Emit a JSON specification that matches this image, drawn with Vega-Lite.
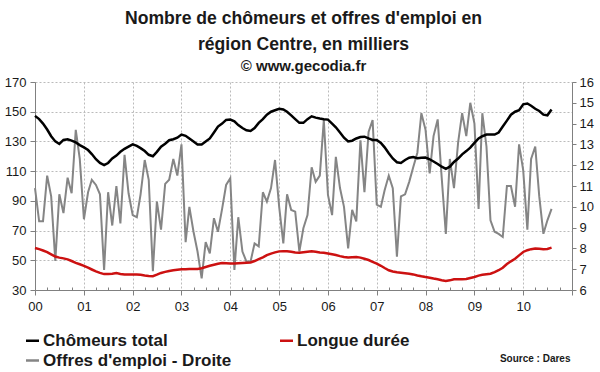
{
  "$schema": "https://vega.github.io/schema/vega-lite/v6.json",
  "width": 537,
  "height": 208,
  "autosize": {"type": "none"},
  "padding": {"left": 35, "top": 82, "right": 28, "bottom": 82},
  "background": "white",
  "config": {"font": "Liberation Sans", "view": {"stroke": null}},
  "title": {
    "text": ["Nombre de chômeurs et offres d'emploi en", "région Centre, en milliers"],
    "subtitle": "© www.gecodia.fr",
    "anchor": "middle",
    "font": "Liberation Sans",
    "fontSize": 17.6,
    "fontWeight": "bold",
    "color": "#1a1a1a",
    "lineHeight": 26,
    "subtitleFont": "Liberation Sans",
    "subtitleFontSize": 15,
    "subtitleFontWeight": "bold",
    "subtitleColor": "#1a1a1a",
    "subtitlePadding": 5,
    "offset": 2
  },
  "data": {"values": [
    {"date":"2000-01","chomeurs":147.2,"longue":58.3,"offres":10.9},
    {"date":"2000-02","chomeurs":145,"longue":57.5,"offres":9.3},
    {"date":"2000-03","chomeurs":142,"longue":56.6,"offres":9.3},
    {"date":"2000-04","chomeurs":138,"longue":55.5,"offres":11.5},
    {"date":"2000-05","chomeurs":133.5,"longue":54,"offres":10.5},
    {"date":"2000-06","chomeurs":130,"longue":52.5,"offres":7.4},
    {"date":"2000-07","chomeurs":128.3,"longue":51.8,"offres":10.6},
    {"date":"2000-08","chomeurs":131,"longue":51.3,"offres":9.7},
    {"date":"2000-09","chomeurs":131.4,"longue":50.6,"offres":11.4},
    {"date":"2000-10","chomeurs":130.5,"longue":49.5,"offres":10.65},
    {"date":"2000-11","chomeurs":129.3,"longue":48.3,"offres":13.7},
    {"date":"2000-12","chomeurs":127.5,"longue":47.3,"offres":12.3},
    {"date":"2001-01","chomeurs":126,"longue":46.3,"offres":9.4},
    {"date":"2001-02","chomeurs":124.2,"longue":45,"offres":10.7},
    {"date":"2001-03","chomeurs":121.5,"longue":43.8,"offres":11.3},
    {"date":"2001-04","chomeurs":118,"longue":42.5,"offres":11.05},
    {"date":"2001-05","chomeurs":115.5,"longue":41.5,"offres":10.6},
    {"date":"2001-06","chomeurs":114,"longue":40.7,"offres":6.96},
    {"date":"2001-07","chomeurs":115.5,"longue":40.7,"offres":10.7},
    {"date":"2001-08","chomeurs":118.5,"longue":41,"offres":9.1},
    {"date":"2001-09","chomeurs":120.5,"longue":41.4,"offres":11.0},
    {"date":"2001-10","chomeurs":123,"longue":40.8,"offres":9.2},
    {"date":"2001-11","chomeurs":125,"longue":40.4,"offres":12.5},
    {"date":"2001-12","chomeurs":126.5,"longue":40.4,"offres":10.65},
    {"date":"2002-01","chomeurs":128,"longue":40.4,"offres":9.6},
    {"date":"2002-02","chomeurs":127,"longue":40.4,"offres":9.5},
    {"date":"2002-03","chomeurs":125.5,"longue":40.2,"offres":10.6},
    {"date":"2002-04","chomeurs":123.5,"longue":39.8,"offres":12.25},
    {"date":"2002-05","chomeurs":121,"longue":39.5,"offres":11.3},
    {"date":"2002-06","chomeurs":120,"longue":39.3,"offres":6.9},
    {"date":"2002-07","chomeurs":123,"longue":40.3,"offres":10.25},
    {"date":"2002-08","chomeurs":126.5,"longue":41.5,"offres":8.9},
    {"date":"2002-09","chomeurs":128.5,"longue":42.2,"offres":11.1},
    {"date":"2002-10","chomeurs":130.8,"longue":42.8,"offres":11.3},
    {"date":"2002-11","chomeurs":131.5,"longue":43.3,"offres":12.3},
    {"date":"2002-12","chomeurs":132.5,"longue":43.7,"offres":11.5},
    {"date":"2003-01","chomeurs":134.6,"longue":44,"offres":13.0},
    {"date":"2003-02","chomeurs":133.8,"longue":44,"offres":8.3},
    {"date":"2003-03","chomeurs":132,"longue":44.1,"offres":10.0},
    {"date":"2003-04","chomeurs":130,"longue":44.2,"offres":8.8},
    {"date":"2003-05","chomeurs":128,"longue":44.2,"offres":7.85},
    {"date":"2003-06","chomeurs":128,"longue":44.7,"offres":6.56},
    {"date":"2003-07","chomeurs":130,"longue":45.5,"offres":8.3},
    {"date":"2003-08","chomeurs":132,"longue":46.3,"offres":7.76},
    {"date":"2003-09","chomeurs":136,"longue":47,"offres":9.45},
    {"date":"2003-10","chomeurs":140,"longue":47.7,"offres":8.8},
    {"date":"2003-11","chomeurs":142,"longue":48.2,"offres":9.9},
    {"date":"2003-12","chomeurs":144.5,"longue":48,"offres":11.05},
    {"date":"2004-01","chomeurs":144.7,"longue":47.8,"offres":11.37},
    {"date":"2004-02","chomeurs":143.5,"longue":47.8,"offres":6.96},
    {"date":"2004-03","chomeurs":141,"longue":48,"offres":9.5},
    {"date":"2004-04","chomeurs":139,"longue":48.2,"offres":7.85},
    {"date":"2004-05","chomeurs":137.5,"longue":48.4,"offres":7.37},
    {"date":"2004-06","chomeurs":137,"longue":48.5,"offres":7.37},
    {"date":"2004-07","chomeurs":139,"longue":49.5,"offres":8.24},
    {"date":"2004-08","chomeurs":142.5,"longue":50.8,"offres":8.1},
    {"date":"2004-09","chomeurs":145,"longue":52,"offres":10.7},
    {"date":"2004-10","chomeurs":148,"longue":53.5,"offres":10.25},
    {"date":"2004-11","chomeurs":150,"longue":54.5,"offres":10.9},
    {"date":"2004-12","chomeurs":151,"longue":55.3,"offres":12.25},
    {"date":"2005-01","chomeurs":152,"longue":56,"offres":10.0},
    {"date":"2005-02","chomeurs":151.5,"longue":56.1,"offres":8.24},
    {"date":"2005-03","chomeurs":150,"longue":56.1,"offres":10.6},
    {"date":"2005-04","chomeurs":147.5,"longue":55.8,"offres":9.85},
    {"date":"2005-05","chomeurs":145,"longue":55.3,"offres":9.77},
    {"date":"2005-06","chomeurs":142.5,"longue":55,"offres":7.85},
    {"date":"2005-07","chomeurs":142.5,"longue":55.4,"offres":8.97},
    {"date":"2005-08","chomeurs":145,"longue":55.8,"offres":9.6},
    {"date":"2005-09","chomeurs":146.9,"longue":56.1,"offres":11.9},
    {"date":"2005-10","chomeurs":146,"longue":55.8,"offres":11.2},
    {"date":"2005-11","chomeurs":145.4,"longue":55.3,"offres":11.5},
    {"date":"2005-12","chomeurs":145,"longue":55,"offres":14.17},
    {"date":"2006-01","chomeurs":144.7,"longue":54.5,"offres":10.57},
    {"date":"2006-02","chomeurs":142,"longue":54,"offres":9.6},
    {"date":"2006-03","chomeurs":139.5,"longue":53.5,"offres":12.4},
    {"date":"2006-04","chomeurs":136,"longue":52.8,"offres":10.9},
    {"date":"2006-05","chomeurs":132.5,"longue":52.2,"offres":10.0},
    {"date":"2006-06","chomeurs":130,"longue":51.8,"offres":8.0},
    {"date":"2006-07","chomeurs":130.5,"longue":52,"offres":9.85},
    {"date":"2006-08","chomeurs":132,"longue":52.2,"offres":9.3},
    {"date":"2006-09","chomeurs":133,"longue":51.8,"offres":13.2},
    {"date":"2006-10","chomeurs":133.2,"longue":51,"offres":10.7},
    {"date":"2006-11","chomeurs":132,"longue":50.2,"offres":13.6},
    {"date":"2006-12","chomeurs":131,"longue":49,"offres":14.17},
    {"date":"2007-01","chomeurs":131,"longue":47.8,"offres":10.1},
    {"date":"2007-02","chomeurs":129,"longue":46.3,"offres":10.0},
    {"date":"2007-03","chomeurs":126,"longue":44.8,"offres":10.8},
    {"date":"2007-04","chomeurs":122,"longue":43.3,"offres":11.5},
    {"date":"2007-05","chomeurs":118.5,"longue":42.5,"offres":10.9},
    {"date":"2007-06","chomeurs":116,"longue":41.9,"offres":7.6},
    {"date":"2007-07","chomeurs":115.5,"longue":41.6,"offres":10.5},
    {"date":"2007-08","chomeurs":117.5,"longue":41.3,"offres":10.6},
    {"date":"2007-09","chomeurs":119,"longue":41,"offres":11.2},
    {"date":"2007-10","chomeurs":119.5,"longue":40.5,"offres":11.9},
    {"date":"2007-11","chomeurs":118.7,"longue":39.8,"offres":12.6},
    {"date":"2007-12","chomeurs":119,"longue":39.2,"offres":14.5},
    {"date":"2008-01","chomeurs":119.1,"longue":38.7,"offres":13.7},
    {"date":"2008-02","chomeurs":118,"longue":38.3,"offres":11.6},
    {"date":"2008-03","chomeurs":116.5,"longue":37.7,"offres":13.4},
    {"date":"2008-04","chomeurs":114.8,"longue":37.2,"offres":14.2},
    {"date":"2008-05","chomeurs":113,"longue":36.6,"offres":11.4},
    {"date":"2008-06","chomeurs":111.5,"longue":36.1,"offres":8.7},
    {"date":"2008-07","chomeurs":113,"longue":36.5,"offres":12.3},
    {"date":"2008-08","chomeurs":116.2,"longue":37.2,"offres":10.9},
    {"date":"2008-09","chomeurs":118.5,"longue":37.2,"offres":13.1},
    {"date":"2008-10","chomeurs":121.3,"longue":37.2,"offres":14.5},
    {"date":"2008-11","chomeurs":123.5,"longue":37.4,"offres":13.4},
    {"date":"2008-12","chomeurs":125.8,"longue":38.1,"offres":15.0},
    {"date":"2009-01","chomeurs":129,"longue":38.8,"offres":14.0},
    {"date":"2009-02","chomeurs":132,"longue":39.7,"offres":9.9},
    {"date":"2009-03","chomeurs":133.5,"longue":40.2,"offres":14.5},
    {"date":"2009-04","chomeurs":134.6,"longue":40.6,"offres":12.9},
    {"date":"2009-05","chomeurs":134.6,"longue":41,"offres":9.35},
    {"date":"2009-06","chomeurs":134.6,"longue":42,"offres":8.8},
    {"date":"2009-07","chomeurs":136,"longue":43.3,"offres":8.7},
    {"date":"2009-08","chomeurs":140,"longue":45,"offres":8.55},
    {"date":"2009-09","chomeurs":144,"longue":47.5,"offres":11.0},
    {"date":"2009-10","chomeurs":148,"longue":49.3,"offres":11.0},
    {"date":"2009-11","chomeurs":150,"longue":51,"offres":10.0},
    {"date":"2009-12","chomeurs":151,"longue":53.3,"offres":13.0},
    {"date":"2010-01","chomeurs":155,"longue":55.6,"offres":11.75},
    {"date":"2010-02","chomeurs":155.5,"longue":56.8,"offres":8.9},
    {"date":"2010-03","chomeurs":154,"longue":57.5,"offres":12.3},
    {"date":"2010-04","chomeurs":152,"longue":57.9,"offres":12.9},
    {"date":"2010-05","chomeurs":150.5,"longue":57.8,"offres":10.5},
    {"date":"2010-06","chomeurs":148,"longue":57.5,"offres":8.7},
    {"date":"2010-07","chomeurs":147.6,"longue":57.6,"offres":9.35},
    {"date":"2010-08","chomeurs":151.5,"longue":58.5,"offres":9.9}
  ]},
  "layer": [
    {
      "transform": [{"fold": ["offres"], "as": ["series", "value"]}],
      "mark": {"type": "line", "strokeWidth": 2},
      "encoding": {
        "x": {
          "field": "date", "type": "temporal",
          "scale": {"type": "utc", "domain": [{"year": 2000, "month": 1, "date": 1, "utc": true}, {"year": 2011, "month": 1, "date": 1, "utc": true}]},
          "axis": {
            "tickCount": {"interval": "month", "step": 3},
            "labelExpr": "utcmonth(datum.value) == 0 && utcyear(datum.value) < 2011 ? utcFormat(datum.value, '%y') : ''",
            "labelOverlap": false,
            "labelBound": false,
            "labelFlush": false,
            "grid": true,
            "gridDash": [2, 2],
            "gridColor": "#bbbbbb",
            "gridOpacity": {"condition": {"test": "utcmonth(datum.value) == 0", "value": 1}, "value": 0},
            "tickSize": {"condition": {"test": "utcmonth(datum.value) == 0", "value": 5}, "value": -3},
            "domainColor": "#808080",
            "tickColor": "#808080",
            "labelFont": "Liberation Sans",
            "labelFontSize": 13,
            "labelColor": "#1a1a1a",
            "labelPadding": 5,
            "title": "Source : Dares",
            "titleFont": "Liberation Sans",
            "titleFontSize": 10,
            "titleFontWeight": "bold",
            "titleColor": "#1a1a1a",
            "titleAnchor": "end",
            "titleAlign": "right",
            "titleX": 535,
            "titleY": 71,
            "titleBaseline": "alphabetic"
          }
        },
        "y": {
          "field": "value", "type": "quantitative",
          "scale": {"domain": [6, 16], "nice": false, "zero": false},
          "axis": {
            "orient": "right",
            "values": [6, 7, 8, 9, 10, 11, 12, 13, 14, 15, 16],
            "grid": false,
            "tickSize": 4,
            "domainColor": "#808080",
            "tickColor": "#808080",
            "labelFont": "Liberation Sans",
            "labelFontSize": 13,
            "labelColor": "#1a1a1a",
            "labelPadding": 3,
            "title": null
          }
        },
        "color": {"field": "series", "type": "nominal"}
      }
    },
    {
      "transform": [{"fold": ["chomeurs", "longue"], "as": ["series", "value"]}],
      "mark": {"type": "line", "strokeWidth": 2.5},
      "encoding": {
        "x": {"field": "date", "type": "temporal"},
        "y": {
          "field": "value", "type": "quantitative",
          "scale": {"domain": [30, 170], "nice": false, "zero": false},
          "axis": {
            "orient": "left",
            "values": [30, 50, 70, 90, 110, 130, 150, 170],
            "grid": true,
            "gridDash": [2, 2],
            "gridColor": "#bbbbbb",
            "tickSize": 5,
            "domainColor": "#808080",
            "tickColor": "#808080",
            "labelFont": "Liberation Sans",
            "labelFontSize": 13,
            "labelColor": "#1a1a1a",
            "labelPadding": 4,
            "title": null
          }
        },
        "color": {
          "field": "series", "type": "nominal",
          "scale": {"domain": ["chomeurs", "longue", "offres"], "range": ["#000000", "#cc1111", "#858585"]},
          "legend": {
            "orient": "none",
            "legendX": -11,
            "legendY": 250,
            "direction": "horizontal",
            "columns": 2,
            "title": null,
            "symbolType": "stroke",
            "symbolSize": 170,
            "symbolStrokeWidth": 2.5,
            "labelFont": "Liberation Sans",
            "labelFontSize": 17,
            "labelFontWeight": "bold",
            "labelColor": "#1a1a1a",
            "labelLimit": 300,
            "labelOffset": 2,
            "columnPadding": 42,
            "rowPadding": 2,
            "labelExpr": "datum.label == 'chomeurs' ? 'Chômeurs total' : datum.label == 'longue' ? 'Longue durée' : \"Offres d'emploi - Droite\""
          }
        }
      }
    }
  ],
  "resolve": {"scale": {"y": "independent"}}
}
